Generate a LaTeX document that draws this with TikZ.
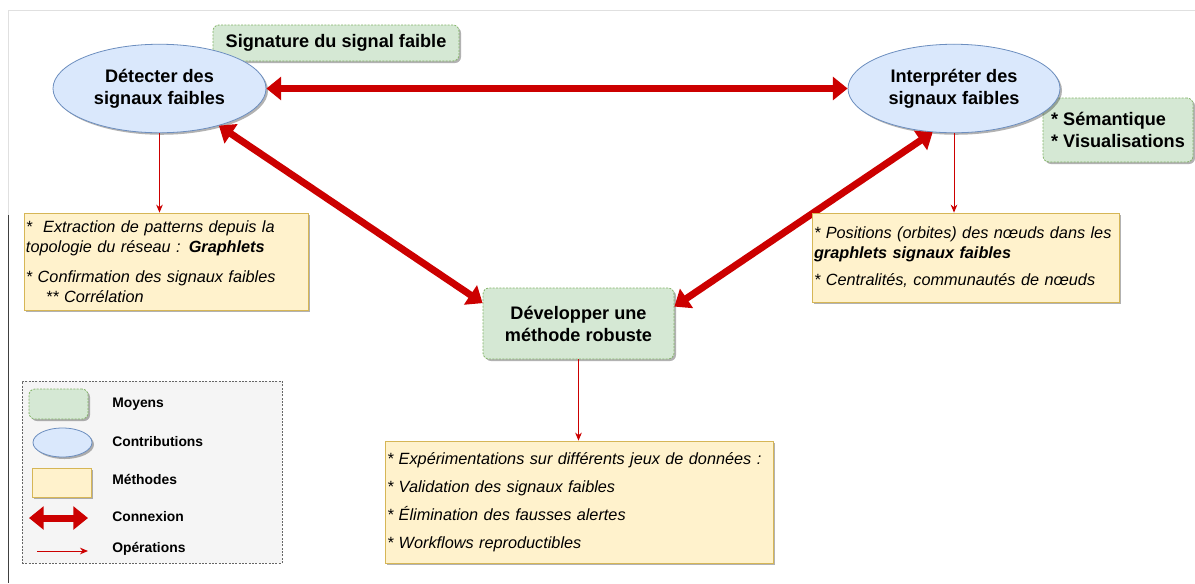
\documentclass[tikz,border=0pt]{standalone}
\usepackage{fontspec}
\setmainfont{Liberation Sans}
\usetikzlibrary{shapes.geometric,arrows.meta,shadows}

\definecolor{vertfond}{HTML}{D5E8D4}
\definecolor{vertbord}{HTML}{82B366}
\definecolor{bleufond}{HTML}{DAE8FC}
\definecolor{bleubord}{HTML}{6C8EBF}
\definecolor{jaunefond}{HTML}{FFF2CC}
\definecolor{jaunebord}{HTML}{D6B656}
\definecolor{rouge}{HTML}{CC0000}
\definecolor{grisfond}{HTML}{F5F5F5}
\definecolor{grisbord}{HTML}{666666}

\newcommand\titre{\fontsize{13.6}{16.5}\selectfont\bfseries}
\newcommand\texte{\fontsize{12.2}{15}\selectfont\itshape}
\newcommand\legendefont{\fontsize{10.4}{12}\selectfont\bfseries}

\tikzset{
  ombre/.style={drop shadow={shadow xshift=1.5pt,shadow yshift=-1.5pt,opacity=0.3,fill=black}},
  moyen/.style={rectangle,rounded corners=4.5pt,fill=vertfond,draw=vertbord,line width=0.6pt,
    dash pattern=on 1.5pt off 1pt,ombre,font=\titre,align=left,inner sep=0pt},
  contribution/.style={ellipse,fill=bleufond,draw=bleubord,line width=0.6pt,ombre,font=\titre,
    align=center,inner sep=1pt},
  methode/.style={rectangle,fill=jaunefond,draw=jaunebord,line width=0.6pt,ombre,font=\texte,
    align=left,inner xsep=1.5pt,inner ysep=0pt},
  connexion/.style={draw=rouge,line width=5.25pt,
    {Triangle[length=11pt,width=17pt]}-{Triangle[length=11pt,width=17pt]}},
  operation/.style={draw=rouge,line width=0.75pt,-{Stealth[length=6pt,width=5pt]}},
  legende/.style={anchor=west,inner sep=0pt,font=\legendefont}
}

\begin{document}
\begin{tikzpicture}[x=0.75pt,y=-0.75pt]
\fill[white] (0,0) rectangle (1195,583);
\useasboundingbox (0,0) rectangle (1195,583);

% page edges
\draw[black!12,line width=0.75pt] (8,215) -- (8,10) -- (1195,10);
\draw[black!75,line width=0.75pt] (8,215) -- (8,583);

% means behind the contributions
\node[moyen,minimum width=184.5pt,minimum height=27pt] (sig) at (336,43) {Signature du signal faible};
\node[moyen,minimum width=112.5pt,minimum height=48pt] (sem) at (1118,130) {* Sémantique\\{*} Visualisations};

% contributions
\node[contribution,minimum width=159.75pt,minimum height=66.4pt] (det) at (159.5,88.5) {Détecter des\\signaux faibles};
\node[contribution,minimum width=159pt,minimum height=66.4pt] (int) at (954,88.5) {Interpréter des\\signaux faibles};
\node[moyen,align=center,minimum width=143.25pt,minimum height=53.25pt] (dev) at (578.5,323.5) {Développer une\\méthode robuste};

% connexions
\draw[connexion] (det) -- (int);
\draw[connexion] (det.-32) -- (dev.168);
\draw[connexion] (int.-116) -- (dev.10);

% methods
\node[methode,text width=210pt,minimum height=72.75pt] (ext) at (166,261.5)
  {*\ \ Extraction de patterns depuis la\\
   topologie du réseau : \textbf{Graphlets}\\[7.5pt]
   * Confirmation des signaux faibles\\
   \hspace*{15pt}** Corrélation};
\node[methode,text width=227.25pt,minimum height=66.75pt] (pos) at (965.5,257.5)
  {* Positions (orbites) des nœuds dans les\\
   \textbf{graphlets signaux faibles}\\[5.25pt]
   * Centralités, communautés de nœuds};
\node[methode,text width=288pt,minimum height=91.5pt] (exp) at (579,502)
  {* Expérimentations sur différents jeux de données :\\[6pt]
   * Validation des signaux faibles\\[6pt]
   * Élimination des fausses alertes\\[6pt]
   * Workflows reproductibles};

% operations
\draw[operation] (det.south) -- (det.south |- ext.north);
\draw[operation] (int.south) -- (int.south |- pos.north);
\draw[operation] (dev.south) -- (dev.south |- exp.north);

% legend
\node[rectangle,fill=grisfond,draw=grisbord,line width=0.6pt,dash pattern=on 1.5pt off 1pt,
  minimum width=195pt,minimum height=136.5pt] (leg) at (152,472) {};
\node[moyen,minimum width=44.25pt,minimum height=22.5pt] (legmoy) at (58.5,404) {};
\node[contribution,minimum width=44.25pt,minimum height=21.75pt] (legcon) at (62.5,442.5) {};
\node[methode,minimum width=44.25pt,minimum height=21.75pt] (legmet) at (61.5,482.5) {};
\coordinate (lc1) at (29,518);
\coordinate (lc2) at (88,518);
\draw[connexion] (lc1) -- (lc2);
\coordinate (lo1) at (37,551);
\coordinate (lo2) at (88,551);
\draw[operation] (lo1) -- (lo2);

\node[legende] (tmoy) at (112,404) {Moyens};
\node[legende] (tcon) at (112,442) {Contributions};
\node[legende] (tmet) at (112,479) {Méthodes};
\node[legende] (tcnx) at (112,517) {Connexion};
\node[legende] (tope) at (112,549) {Opérations};
\end{tikzpicture}
\end{document}
